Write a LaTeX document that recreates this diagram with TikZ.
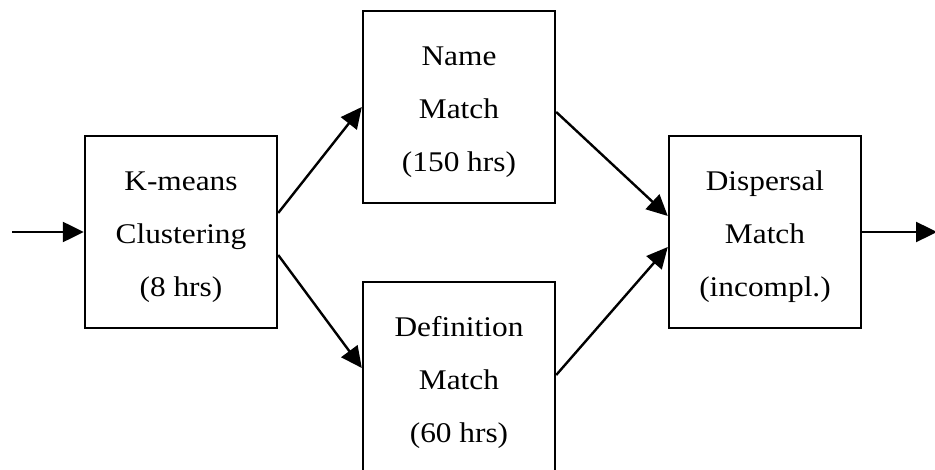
\documentclass[tikz,border=0pt]{standalone}
\usepackage{fontspec}
\setmainfont[FakeStretch=1.1]{Liberation Serif}
\usetikzlibrary{arrows.meta,calc}
\begin{document}
\begin{tikzpicture}[x=1pt,y=-1pt,
  box/.style={draw,line width=2.4pt,minimum width=192pt,minimum height=192pt,inner sep=0pt},
  lbl/.style={font=\fontsize{28.5pt}{53pt}\selectfont,align=center,anchor=base,inner sep=0pt},
  conn/.style={line width=2.4pt,-{Triangle[length=21pt,width=20pt]}}]
\useasboundingbox (0,0) rectangle (935,470);
\begin{scope}
\clip (0,0) rectangle (935,470);
\node[box] (km) at (181,232) {};
\node[box] (nm) at (459,107) {};
\node[box] (df) at (459,378) {};
\node[box] (ds) at (765,232) {};
\end{scope}
\node[lbl] (kmt) at ($(km.north)+(0,162)$) {K-means\\Clustering\\(8 hrs)};
\node[lbl] (nmt) at ($(nm.north)+(0,162)$) {Name\\Match\\(150 hrs)};
\node[lbl] (dft) at ($(df.north)+(0,162)$) {Definition\\Match\\(60 hrs)};
\node[lbl] (dst) at ($(ds.north)+(0,162)$) {Dispersal\\Match\\(incompl.)};
\coordinate (in) at (12,232);
\coordinate (out) at (937,232);
\draw[conn] (in) -- (km.west);
\draw[conn] ($(km.east)+(0,-19)$) -- (nm.west);
\draw[conn] ($(km.east)+(0,23)$) -- ($(df.west)+(0,-10)$);
\draw[conn] ($(nm.east)+(0,5)$) -- ($(ds.west)+(0,-16)$);
\draw[conn] ($(df.east)+(0,-3)$) -- ($(ds.west)+(0,15)$);
\draw[conn] (ds.east) -- (out);
\end{tikzpicture}
\end{document}
